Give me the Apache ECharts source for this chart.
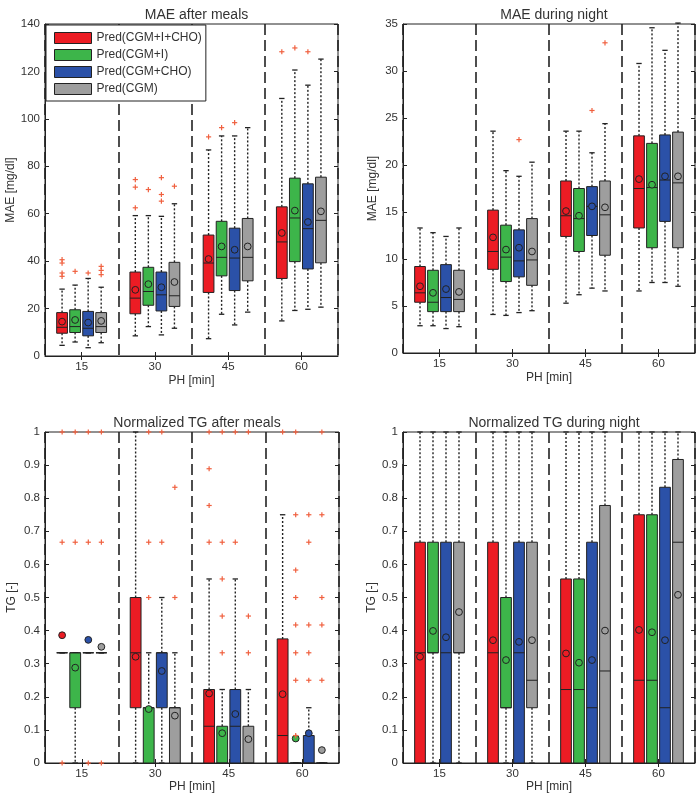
<!DOCTYPE html>
<html>
<head>
<meta charset="utf-8">
<script src="https://cdn.jsdelivr.net/npm/echarts@6/dist/echarts.min.js"></script>
<style>html,body{margin:0;padding:0;background:#fff}#chart{width:700px;height:798px}</style>
</head>
<body>
<div id="chart"></div>
<script>
// ---------- DATA ----------
const categories = ['15', '30', '45', '60'];
const methods = ['Pred(CGM+I+CHO)', 'Pred(CGM+I)', 'Pred(CGM+CHO)', 'Pred(CGM)'];
const panelTitles = ['MAE after meals', 'MAE during night', 'Normalized TG after meals', 'Normalized TG during night'];
const yNames = ['MAE [mg/dl]', 'MAE [mg/dl]', 'TG [-]', 'TG [-]'];
const xName = 'PH [min]';

// box stats per PH: [min, q1, median, q3, max, mean]
// --- MAE after meals ---
const maeMeals_CGM_I_CHO = [[4.5, 9.6, 12.1, 18.3, 28.2, 14.5], [8.5, 17.8, 24.4, 35.4, 59.2, 27.9], [7.3, 26.8, 39.2, 51, 86.9, 40.9], [14.8, 32.7, 48.1, 62.9, 108.6, 51.9]];
const maeMeals_CGM_I = [[5.9, 9.9, 12.4, 19.5, 29.9, 15.2], [12.4, 21.4, 27.2, 37.4, 59.2, 30.3], [17.6, 33.8, 41.6, 56.8, 92.8, 46.2], [19.2, 39.8, 58.2, 75, 120.6, 61.3]];
const maeMeals_CGM_CHO = [[3.5, 8.5, 11.7, 18.8, 32.7, 14.1], [8.9, 19, 25.8, 35.4, 58.9, 29], [13.1, 27.6, 41.3, 53.9, 92.8, 44.8], [19.7, 36.7, 53.7, 72.6, 114.2, 56.5]];
const maeMeals_CGM = [[5.6, 9.9, 12.4, 18.3, 29, 14.8], [11.7, 20.9, 25.4, 39.5, 64.2, 31.2], [18.5, 31.7, 41.6, 58, 96.3, 46.2], [20.6, 39.3, 57.2, 75.4, 125.2, 61]];
// outliers per PH
const maeMealsOut_CGM_I_CHO = [[40.6, 39.2, 35, 33.6], [62.5, 71.2, 74.4], [92.4], [128.3]];
const maeMealsOut_CGM_I = [[35.7], [70.2], [96.3], [129.9]];
const maeMealsOut_CGM_CHO = [[35], [75.2, 68.1, 65.3], [98.4], [128.3]];
const maeMealsOut_CGM = [[37.8, 36.1, 34.3], [71.6], [], []];

// --- MAE during night ---
const maeNight_CGM_I_CHO = [[2.9, 5.4, 6.4, 9.2, 13.3, 7.1], [4.1, 8.9, 10.8, 15.2, 23.6, 12.3], [5.3, 12.4, 14.6, 18.3, 23.6, 15.1], [6.6, 13.3, 17.5, 23.1, 30.8, 18.5]];
const maeNight_CGM_I = [[2.9, 4.4, 5.4, 8.8, 12.8, 6.4], [4, 7.6, 10.2, 13.6, 19.4, 11], [6.2, 10.8, 14.3, 17.5, 23.6, 14.6], [7.5, 11.2, 17.6, 22.3, 34.6, 17.9]];
const maeNight_CGM_CHO = [[2.6, 4.4, 5.9, 9.4, 12.4, 6.8], [4.3, 8.1, 9.8, 13.1, 18.8, 11.2], [6.9, 12.5, 15.6, 17.7, 21.3, 15.6], [7.5, 14, 18.4, 23.2, 32.2, 18.8]];
const maeNight_CGM = [[2.8, 4.4, 5.7, 8.8, 13.3, 6.5], [4.5, 7.2, 9.9, 14.3, 20.3, 10.8], [6.6, 10.4, 14.7, 18.3, 24.4, 15.5], [7.1, 11.2, 18.1, 23.5, 35.1, 18.8]];
const maeNightOut_CGM_I_CHO = [[], [], [], []];
const maeNightOut_CGM_I = [[], [], [], []];
const maeNightOut_CGM_CHO = [[], [22.7], [25.8], []];
const maeNightOut_CGM = [[], [], [33], []];

// --- Normalized TG after meals ---
const tgMeals_CGM_I_CHO = [[0.333, 0.333, 0.333, 0.333, 0.333, 0.386], [0, 0.167, 0.333, 0.5, 1, 0.321], [0, 0, 0.111, 0.222, 0.556, 0.21], [0, 0, 0.083, 0.375, 0.75, 0.208]];
const tgMeals_CGM_I = [[0, 0.167, 0.333, 0.333, 0.333, 0.288], [0, 0, 0.167, 0.167, 0.333, 0.163], [0, 0, 0, 0.111, 0.222, 0.09], [0, 0, 0, 0, 0, 0.074]];
const tgMeals_CGM_CHO = [[0.333, 0.333, 0.333, 0.333, 0.333, 0.372], [0, 0.167, 0.333, 0.333, 0.5, 0.278], [0, 0, 0.111, 0.222, 0.556, 0.148], [0, 0, 0, 0.083, 0.167, 0.09]];
const tgMeals_CGM = [[0.333, 0.333, 0.333, 0.333, 0.333, 0.351], [0, 0, 0.167, 0.167, 0.333, 0.143], [0, 0, 0, 0.111, 0.222, 0.072], [0, 0, 0, 0, 0, 0.039]];
const tgMealsOut_CGM_I_CHO = [[0, 0.667, 1], [], [1, 0.889, 0.778, 0.667], [1]];
const tgMealsOut_CGM_I = [[1, 0.667], [1, 0.667, 0.5], [1, 0.667, 0.556, 0.444, 0.333], [1, 0.75, 0.583, 0.5, 0.417, 0.333, 0.25, 0.083]];
const tgMealsOut_CGM_CHO = [[0, 0.667, 1], [1, 0.667], [1, 0.667], [0.75, 0.667, 0.417, 0.333, 0.25]];
const tgMealsOut_CGM = [[0, 0.667, 1], [0.833, 0.5], [1, 0.444, 0.333], [1, 0.75, 0.5, 0.417, 0.25]];

// --- Normalized TG during night ---
const tgNight_CGM_I_CHO = [[0, 0, 0.333, 0.667, 1, 0.321], [0, 0, 0.333, 0.667, 1, 0.371], [0, 0, 0.222, 0.556, 1, 0.331], [0, 0, 0.25, 0.75, 1, 0.402]];
const tgNight_CGM_I = [[0, 0.333, 0.333, 0.667, 1, 0.399], [0, 0.167, 0.167, 0.5, 1, 0.311], [0, 0, 0.222, 0.556, 1, 0.303], [0, 0, 0.25, 0.75, 1, 0.395]];
const tgNight_CGM_CHO = [[0, 0, 0.333, 0.667, 1, 0.38], [0, 0, 0.333, 0.667, 1, 0.366], [0, 0, 0.167, 0.667, 1, 0.311], [0, 0, 0.167, 0.833, 1, 0.371]];
const tgNight_CGM = [[0, 0.333, 0.333, 0.667, 1, 0.456], [0, 0.167, 0.25, 0.667, 1, 0.371], [0, 0, 0.278, 0.778, 1, 0.4], [0, 0, 0.667, 0.917, 1, 0.508]];
const tgNightOut_CGM_I_CHO = [[], [], [], []];
const tgNightOut_CGM_I = [[], [], [], []];
const tgNightOut_CGM_CHO = [[], [], [], []];
const tgNightOut_CGM = [[], [], [], []];

const yMax = [140, 35, 1, 1];
const yInterval = [20, 5, 0.1, 0.1];

// ---------- STYLE / LAYOUT ----------
const colors = ['#ec1c24', '#3db54a', '#2b51a8', '#9e9e9e'];
const outlierColor = '#f0603f';
const ink = '#222';
const textColor = '#333';
const font = "'Liberation Sans', Arial, sans-serif";
const grids = [
  { left: 45, top: 24, width: 293, height: 332 },
  { left: 403, top: 24, width: 292, height: 329 },
  { left: 45, top: 432, width: 294, height: 331 },
  { left: 403, top: 432, width: 292, height: 331 }
];

const boxData = [
  [maeMeals_CGM_I_CHO, maeMeals_CGM_I, maeMeals_CGM_CHO, maeMeals_CGM],
  [maeNight_CGM_I_CHO, maeNight_CGM_I, maeNight_CGM_CHO, maeNight_CGM],
  [tgMeals_CGM_I_CHO, tgMeals_CGM_I, tgMeals_CGM_CHO, tgMeals_CGM],
  [tgNight_CGM_I_CHO, tgNight_CGM_I, tgNight_CGM_CHO, tgNight_CGM]
];
const outData = [
  [maeMealsOut_CGM_I_CHO, maeMealsOut_CGM_I, maeMealsOut_CGM_CHO, maeMealsOut_CGM],
  [maeNightOut_CGM_I_CHO, maeNightOut_CGM_I, maeNightOut_CGM_CHO, maeNightOut_CGM],
  [tgMealsOut_CGM_I_CHO, tgMealsOut_CGM_I, tgMealsOut_CGM_CHO, tgMealsOut_CGM],
  [tgNightOut_CGM_I_CHO, tgNightOut_CGM_I, tgNightOut_CGM_CHO, tgNightOut_CGM]
];

const OFFSET_STEP = 0.178, BOX_W = 0.147;

function boxSeries(g, m) {
  const color = colors[m];
  return {
    type: 'custom', name: methods[m],
    xAxisIndex: 2 * g, yAxisIndex: 2 * g, z: 3,
    itemStyle: { color: color },
    data: boxData[g][m].map((s, i) => [i].concat(s)),
    renderItem: function (params, api) {
      const cat = api.value(0);
      const band = api.size([1, 0])[0];
      const cx = api.coord([cat, 0])[0] + (m - 1.5) * band * OFFSET_STEP;
      const hw = band * BOX_W / 2;
      const cap = hw * 0.5;
      const y = k => api.coord([cat, api.value(k)])[1];
      const yMin = y(1), yQ1 = y(2), yMed = y(3), yQ3 = y(4), yMx = y(5), yMean = y(6);
      const dot = { stroke: ink, lineWidth: 1.4, lineDash: [2, 2] };
      const solid = { stroke: ink, lineWidth: 1.3 };
      return {
        type: 'group', children: [
          { type: 'line', shape: { x1: cx, y1: yQ3, x2: cx, y2: yMx }, style: dot },
          { type: 'line', shape: { x1: cx, y1: yQ1, x2: cx, y2: yMin }, style: dot },
          { type: 'line', shape: { x1: cx - cap, y1: yMx, x2: cx + cap, y2: yMx }, style: solid },
          { type: 'line', shape: { x1: cx - cap, y1: yMin, x2: cx + cap, y2: yMin }, style: solid },
          { type: 'rect', shape: { x: cx - hw, y: yQ3, width: 2 * hw, height: yQ1 - yQ3 }, style: { fill: color, stroke: ink, lineWidth: 1 } },
          { type: 'line', shape: { x1: cx - hw, y1: yMed, x2: cx + hw, y2: yMed }, style: { stroke: ink, lineWidth: 1 } },
          { type: 'circle', shape: { cx: cx, cy: yMean, r: 3.4 }, style: { fill: color, stroke: ink, lineWidth: 1 } }
        ]
      };
    }
  };
}

function outlierSeries(g, m) {
  const pts = [];
  outData[g][m].forEach((vals, i) => vals.forEach(v => pts.push([i, v])));
  return {
    type: 'custom', name: methods[m] + ' outliers',
    xAxisIndex: 2 * g, yAxisIndex: 2 * g, z: 4,
    itemStyle: { color: outlierColor },
    data: pts,
    renderItem: function (params, api) {
      const cat = api.value(0);
      const band = api.size([1, 0])[0];
      const p = api.coord([cat, api.value(1)]);
      const cx = p[0] + (m - 1.5) * band * OFFSET_STEP;
      const s = 2.6;
      const st = { stroke: outlierColor, lineWidth: 1.2 };
      return {
        type: 'group', children: [
          { type: 'line', shape: { x1: cx - s, y1: p[1], x2: cx + s, y2: p[1] }, style: st },
          { type: 'line', shape: { x1: cx, y1: p[1] - s, x2: cx, y2: p[1] + s }, style: st }
        ]
      };
    }
  };
}

const xAxes = [], yAxes = [], titles = [], series = [];
grids.forEach((gr, g) => {
  const bottomGap = g < 2 ? 19 : 18;
  xAxes.push({
    type: 'category', gridIndex: g, data: categories, position: 'bottom', boundaryGap: true,
    name: xName, nameLocation: 'middle', nameGap: bottomGap,
    nameTextStyle: { fontSize: 12, color: textColor, fontFamily: font },
    axisLine: { show: true, lineStyle: { color: ink, width: 1 } },
    axisTick: { show: true, inside: true, alignWithLabel: true, length: 4, lineStyle: { color: ink } },
    axisLabel: { margin: 5, fontSize: 11.5, color: textColor, fontFamily: font },
    splitLine: { show: true, lineStyle: { color: ink, width: 1.6, type: [11, 5] } }
  });
  xAxes.push({
    type: 'category', gridIndex: g, data: categories, position: 'top', boundaryGap: true,
    axisLine: { show: false },
    axisTick: { show: true, inside: true, alignWithLabel: true, length: 4, lineStyle: { color: ink } },
    axisLabel: { show: false }, splitLine: { show: false }
  });
  yAxes.push({
    type: 'value', gridIndex: g, min: 0, max: yMax[g], interval: yInterval[g], position: 'left',
    name: yNames[g], nameLocation: 'middle', nameGap: g % 2 === 0 ? 27 : 24,
    nameTextStyle: { fontSize: 12, color: textColor, fontFamily: font },
    axisLine: { show: true, lineStyle: { color: ink, width: 1 } },
    axisTick: { show: true, inside: true, length: 4, lineStyle: { color: ink } },
    axisLabel: { margin: 5, fontSize: 11.5, color: textColor, fontFamily: font },
    splitLine: { show: false }
  });
  yAxes.push({
    type: 'value', gridIndex: g, min: 0, max: yMax[g], interval: yInterval[g], position: 'right',
    axisLine: { show: false },
    axisTick: { show: true, inside: true, length: 4, lineStyle: { color: ink } },
    axisLabel: { show: false }, splitLine: { show: false }
  });
  titles.push({
    text: panelTitles[g], left: gr.left + gr.width / 2, top: gr.top - 21, textAlign: 'center',
    textStyle: { fontSize: 14, fontWeight: 'normal', color: textColor, fontFamily: font }
  });
  for (let m = 0; m < 4; m++) series.push(boxSeries(g, m));
  for (let m = 0; m < 4; m++) series.push(outlierSeries(g, m));
});

const chart = echarts.init(document.getElementById('chart'), null, { renderer: 'canvas' });
chart.setOption({
  animation: false,
  backgroundColor: '#fff',
  title: titles,
  grid: grids.map(gr => Object.assign({ show: true, borderColor: ink, borderWidth: 1, backgroundColor: 'transparent', containLabel: false }, gr)),
  xAxis: xAxes,
  yAxis: yAxes,
  legend: {
    data: methods.map(n => ({ name: n, icon: 'rect' })),
    orient: 'vertical', left: 46, top: 25,
    itemWidth: 37, itemHeight: 11, itemGap: 5,
    padding: [7, 4, 6, 8],
    backgroundColor: '#fff', borderColor: ink, borderWidth: 1,
    itemStyle: { borderColor: ink, borderWidth: 1 },
    textStyle: { fontSize: 12, color: textColor, fontFamily: font },
    selectedMode: false
  },
  series: series
});
</script>
</body>
</html>
